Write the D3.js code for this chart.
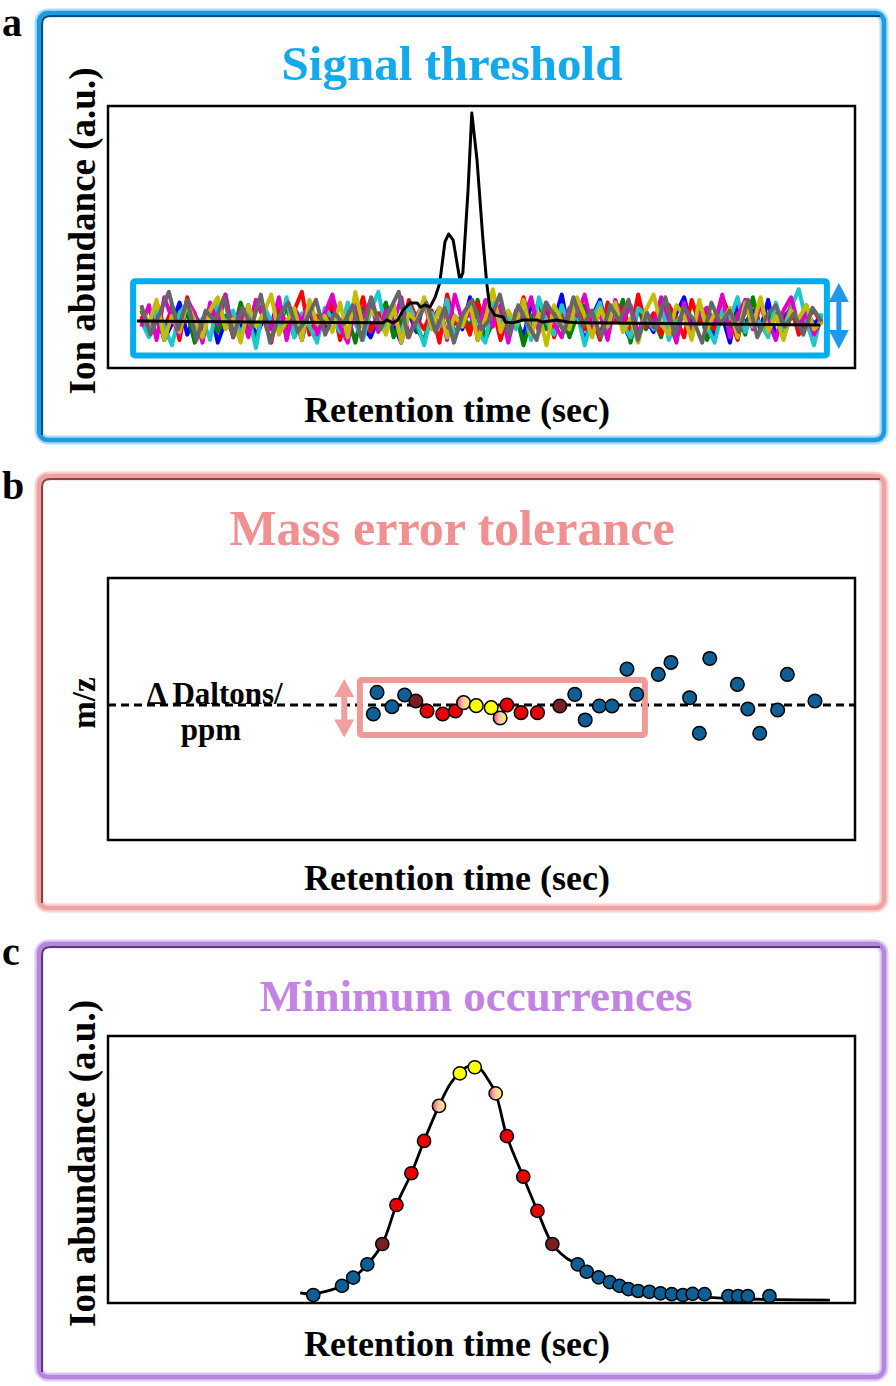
<!DOCTYPE html>
<html>
<head>
<meta charset="utf-8">
<script src="https://d3js.org/d3.v7.min.js"></script>
<style>
body { margin: 0; background: #fff; }
text { font-family: "Liberation Serif", "Times New Roman", serif; font-weight: bold; }
</style>
</head>
<body>
<svg id="chart" width="896" height="1386"></svg>
<script>
// ---- data ----
// panel a : noise traces (a.u.), evenly sampled along retention time
var noiseRed = [21,14,26,17,23,12,28,19,15,24,18,29,13,22,16,27,20,11,25,17,23,30,14,21,18,26,12,24,19,28,15,22,17,25,13,27,20,16,23,11,29,18,21,14,26,19,24,12,22,17,28,15,20,25,13,23,18,27,16,21,12,26,19,24,15,29,17,22,14,25,20,13,27,18,23,16,28,21,12,24,19,26,15,22,17,25,14,20,23,18];
var noiseMagenta = [17,25,12,28,20,14,27,22,11,26,18,29,15,23,13,27,21,16,28,12,24,19,26,14,22,29,17,11,25,20,27,15,23,18,28,13,21,26,16,24,12,29,19,22,14,27,17,25,11,23,20,28,15,26,18,13,24,21,29,16,22,12,27,19,25,14,23,17,28,20,11,26,15,22,24,18,29,13,21,27,16,25,19,12,23,28,17,22,14,20];
var noiseGreen = [23,16,20,13,25,18,22,11,19,24,15,21,14,26,17,12,23,19,16,25,13,20,22,15,18,27,14,21,11,24,17,20,26,13,19,23,16,12,22,18,25,14,21,17,27,12,19,24,15,22,10,20,26,16,18,23,13,21,25,17,14,22,19,27,11,24,16,20,13,25,18,21,15,26,12,19,23,17,22,14,28,16,20,24,13,21,18,25,15,19];
var noiseCyan = [19,13,24,17,10,22,26,15,20,12,27,18,23,14,21,9,25,19,16,28,13,22,17,11,24,20,15,26,18,12,23,30,16,21,14,25,19,10,22,17,27,13,20,24,15,11,26,18,21,16,23,12,28,19,14,25,17,22,10,20,26,15,23,18,13,24,21,16,27,12,19,22,14,25,17,11,23,20,28,15,21,18,13,26,16,24,31,19,10,22];
var noiseYellow = [24,18,27,12,21,15,26,19,13,23,28,16,20,11,25,17,22,29,14,19,24,12,27,18,21,15,26,13,30,17,23,20,14,25,11,22,19,28,16,24,13,21,17,26,12,20,31,15,23,18,27,14,22,10,25,19,16,28,21,13,24,17,26,15,20,11,23,29,18,14,25,21,12,27,16,22,19,24,13,26,17,28,15,21,12,23,20,25,16,19];
var noiseGray = [25,14,22,30,16,27,12,23,19,28,13,24,17,29,11,21,26,15,20,27,14,22,18,25,12,28,16,23,30,13,19,26,15,24,11,22,27,16,20,29,14,25,18,12,26,21,15,28,17,23,13,25,19,27,12,22,16,28,14,24,20,11,26,18,23,15,27,13,21,25,17,22,14,24,19];
var noiseBlue = [20,15,23,12,18,26,14,21,17,24,11,19,22,16,25,13,20,18,27,15,22,12,24,19,16,23,14,21,26,17,13,20,25,18,11,22,15,27,19,24,14,21,16,28,12,23,18,25,15,20,13,26,17,22,19,29,14,24,11,21,27,16,23,18,12,25,20,15,26,13,22,28,17,19,24,14,21,11,25,18,23,16,27,13,20,24,15,22,18,21];
var noiseStart = 4.6, noiseEnd = 95.8;

// panel a : the real signal (time, abundance)
var signalT = [4.0,37.0,37.5,38.3,39.0,39.7,40.6,41.6,42.0,42.6,43.3,44.0,44.6,45.3,45.8,46.4,47.3,47.7,48.4,48.9,49.6,50.4,50.9,51.3,52.0,53.1,53.4,54.4,55.8,57.6,58.4,60.3,61.7,63.4,95.6];
var signalV = [19.1,18.4,19.5,18.4,19.5,23.2,25.8,25.8,24.3,25.1,24.3,28.1,33.3,48.7,51.7,49.4,34.5,37.1,68.2,97.0,79.4,49.4,33.3,24.3,21.3,20.6,18.7,18.4,19.5,19.5,18.7,19.5,18.7,18.4,17.6];
var thresholdT = [3.5, 96.5], thresholdV = [6.2, 34];

// panel b : mass measurements (time, delta m/z)
var massT = [36.2,35.7,38.2,39.9,41.4,42.9,45.0,46.7,47.8,49.5,51.5,52.7,53.6,55.5,57.7,60.7,62.7,64.1,66.0,67.7,69.7,71.0,73.9,75.6,78.1,79.4,80.8,84.5,85.9,87.5,89.9,91.2,94.9];
var massV = [1.9,-1.35,-0.26,1.5,0.6,-0.9,-1.35,-0.9,0.35,-0.1,-0.4,-1.95,0,-1.15,-1.15,-0.15,1.6,-2.25,-0.15,-0.15,5.4,1.6,4.6,6.4,1.1,-4.25,7.0,3.1,-0.6,-4.25,-0.75,4.6,0.6];
var massCls = ["b","b","b","b","dr","r","r","r","g","y","y","g","r","r","r","dr","b","b","b","b","b","b","b","b","b","b","b","b","b","b","b","b","b"];
var toleranceT = [33.9, 72.1], toleranceV = [3.76, -4.5];

// panel c : chromatographic peak (time, abundance)
var peakT = [25.9,27.65,31.5,33.0,34.9,36.9,38.8,40.8,42.5,44.5,46.0,47.3,48.5,49.8,51.0,52.1,53.6,55.8,57.7,59.7,61.5,63.1,64.3,65.9,67.4,68.7,70.0,72.7,75.7,80.0,85.0,90.0,96.9];
var peakV = [3.8,3.4,6.4,9.4,14.4,22.1,36.7,48.6,60.7,73.8,82.0,86.4,88.7,88.3,84.0,78.5,62.5,47.3,34.5,22.1,17.0,14.4,11.7,9.6,7.8,6.4,5.2,4.0,3.0,2.2,1.6,1.3,1.1];
var scanT = [27.65,31.5,33.0,34.9,36.9,38.8,40.8,42.5,44.5,47.3,49.3,52.1,53.6,55.8,57.7,59.7,63.1,64.3,65.9,67.4,68.7,69.9,71.2,72.7,74.2,75.7,77.2,78.5,80.1,83.3,84.6,85.9,88.8];
var scanV = [3.0,6.4,9.5,14.5,22.1,36.7,48.6,60.7,73.8,86.0,88.3,78.5,62.5,47.3,34.5,22.1,14.5,11.7,9.6,7.8,6.4,5.2,4.5,4.2,3.6,3.3,3.0,3.4,3.3,2.6,2.6,2.6,2.6];
var scanCls = ["b","b","b","b","dr","r","r","r","g","y","y","g","r","r","r","dr","b","b","b","b","b","b","b","b","b","b","b","b","b","b","b","b","b"];

var titles = ["Signal threshold", "Mass error tolerance", "Minimum occurrences"];
var letters = ["a", "b", "c"];
var xLabel = "Retention time (sec)";
var yLabels = ["Ion abundance (a.u.)", "m/z", "Ion abundance (a.u.)"];

// ---- layout ----
var svg = d3.select("#chart");
var defs = svg.append("defs");
var grad = defs.append("linearGradient").attr("id", "mix");
grad.append("stop").attr("offset", "0%").attr("stop-color", "#f05050");
grad.append("stop").attr("offset", "45%").attr("stop-color", "#ffc0b8");
grad.append("stop").attr("offset", "100%").attr("stop-color", "#ffff40");

var dotFill = {b: "#0d5f96", dr: "#7a1f1f", r: "#e80000", y: "#ffff00", g: "url(#mix)"};

var panels = [
  {y0: 10, y1: 443, glow: "#a8def7", main: "#1f9ae0", dark: "#0b4a80", title: "#12aaec", titleY: 80,
   titleX: 452, titleSize: 49, box: [106, 368], xlabY: 422, letterY: 36},
  {y0: 473, y1: 911, glow: "#fad0d0", main: "#f0a2a2", dark: "#8a4444", title: "#f09090", titleY: 545,
   titleX: 452, titleSize: 50, box: [578, 840], xlabY: 890, letterY: 499},
  {y0: 941, y1: 1380, glow: "#e0c8f4", main: "#b685dd", dark: "#5d3a7e", title: "#c283e2", titleY: 1011,
   titleX: 476, titleSize: 45, box: [1036, 1303], xlabY: 1356, letterY: 965}
];

var left = 108, right = 855;
var x = d3.scaleLinear().domain([0, 100]).range([107, 853]);

panels.forEach(function(p, i) {
  var g = svg.append("g");
  g.append("rect").attr("x", 39).attr("y", p.y0 + 3).attr("width", 845).attr("height", p.y1 - p.y0 - 6)
    .attr("rx", 9).attr("fill", "none").attr("stroke", p.glow).attr("stroke-width", 9);
  g.append("rect").attr("x", 39).attr("y", p.y0 + 3).attr("width", 845).attr("height", p.y1 - p.y0 - 6)
    .attr("rx", 9).attr("fill", "none").attr("stroke", p.main).attr("stroke-width", 4.5);
  g.append("path")
    .attr("d", "M42," + (p.y1 - 8) + "V" + (p.y0 + 14) + "Q42," + (p.y0 + 6) + " 50," + (p.y0 + 6) + "H880")
    .attr("fill", "none").attr("stroke", p.dark).attr("stroke-width", 2);

  svg.append("text").attr("x", 2).attr("y", p.letterY).attr("font-size", 40).text(letters[i]);
  svg.append("text").attr("x", p.titleX).attr("y", p.titleY).attr("text-anchor", "middle")
    .attr("font-size", p.titleSize).attr("fill", p.title).text(titles[i]);
  svg.append("text").attr("x", 457).attr("y", p.xlabY).attr("text-anchor", "middle")
    .attr("font-size", 36).text(xLabel);
  var cy = (p.box[0] + p.box[1]) / 2;
  svg.append("text").attr("transform", "translate(95," + (cy - 6) + ") rotate(-90)")
    .attr("text-anchor", "middle").attr("font-size", i == 1 ? 33 : 37).text(yLabels[i]);
});

function frame(p) {
  svg.append("rect").attr("x", left).attr("y", p.box[0]).attr("width", right - left)
    .attr("height", p.box[1] - p.box[0]).attr("fill", "none").attr("stroke", "#000").attr("stroke-width", 2.5);
}

// ---- panel a ----
var yA = d3.scaleLinear().domain([0, 100]).range([372, 105]);
var noiseSeries = [
  {v: noiseBlue, c: "#0000ff"}, {v: noiseGreen, c: "#008000"}, {v: noiseRed, c: "#ff0000"},
  {v: noiseCyan, c: "#1cc8cc"}, {v: noiseMagenta, c: "#e000cc"}, {v: noiseYellow, c: "#c4bc00"},
  {v: noiseGray, c: "#666666"}
];
noiseSeries.forEach(function(s) {
  var idx = d3.scaleLinear().domain([0, s.v.length - 1]).range([noiseStart, noiseEnd]);
  var line = d3.line().x(function(d, i) { return x(idx(i)); }).y(function(d) { return yA(d); });
  svg.append("path").attr("d", line(s.v)).attr("fill", "none").attr("stroke", s.c)
    .attr("stroke-width", 4).attr("stroke-linejoin", "round");
});
var sigLine = d3.line().x(function(d) { return x(d); }).y(function(d, i) { return yA(signalV[i]); });
svg.append("path").attr("d", sigLine(signalT)).attr("fill", "none").attr("stroke", "#000")
  .attr("stroke-width", 3).attr("stroke-linejoin", "round");
svg.append("rect").attr("x", x(thresholdT[0])).attr("y", yA(thresholdV[1]))
  .attr("width", x(thresholdT[1]) - x(thresholdT[0])).attr("height", yA(thresholdV[0]) - yA(thresholdV[1]))
  .attr("rx", 2).attr("fill", "none").attr("stroke", "#00aeef").attr("stroke-width", 6);
frame(panels[0]);

function dblArrow(cx, ya, yb, col, hw, hl, sw) {
  svg.append("path")
    .attr("d", "M" + cx + "," + ya + "L" + (cx + hw / 2) + "," + (ya + hl) + "H" + (cx + sw / 2) +
      "V" + (yb - hl) + "H" + (cx + hw / 2) + "L" + cx + "," + yb + "L" + (cx - hw / 2) + "," + (yb - hl) +
      "H" + (cx - sw / 2) + "V" + (ya + hl) + "H" + (cx - hw / 2) + "Z")
    .attr("fill", col);
}
dblArrow(x(98.1), yA(33.3), yA(8.6), "#1e98ee", 20, 19, 5);

// ---- panel b ----
var yB = d3.scaleLinear().domain([-20, 20]).range([838, 572]);
svg.append("line").attr("x1", left).attr("x2", right).attr("y1", yB(0)).attr("y2", yB(0))
  .attr("stroke", "#000").attr("stroke-width", 2.8).attr("stroke-dasharray", "8,5");
svg.append("text").attr("x", 147).attr("y", yB(0) - 1).attr("font-size", 31).text("\u0394 Daltons/");
svg.append("text").attr("x", 211).attr("y", yB(0) + 35).attr("text-anchor", "middle").attr("font-size", 31).text("ppm");
svg.append("rect").attr("x", x(toleranceT[0])).attr("y", yB(toleranceV[0]))
  .attr("width", x(toleranceT[1]) - x(toleranceT[0])).attr("height", yB(toleranceV[1]) - yB(toleranceV[0]))
  .attr("rx", 2).attr("fill", "none").attr("stroke", "#ef9a98").attr("stroke-width", 6);
dblArrow(x(31.8), yB(3.9), yB(-4.9), "#f0a0a0", 20, 18, 6);
svg.append("g").selectAll("circle").data(massT).enter().append("circle")
  .attr("cx", function(d) { return x(d); })
  .attr("cy", function(d, i) { return yB(massV[i]); })
  .attr("r", 6.8)
  .attr("fill", function(d, i) { return dotFill[massCls[i]]; })
  .attr("stroke", "#000").attr("stroke-width", 1.5);
frame(panels[1]);

// ---- panel c ----
var yC = d3.scaleLinear().domain([0, 100]).range([1303, 1036]);
var peakLine = d3.line().curve(d3.curveCatmullRom.alpha(0.5))
  .x(function(d) { return x(d); }).y(function(d, i) { return yC(peakV[i]); });
svg.append("path").attr("d", peakLine(peakT)).attr("fill", "none").attr("stroke", "#000").attr("stroke-width", 2.8);
svg.append("g").selectAll("circle").data(scanT).enter().append("circle")
  .attr("cx", function(d) { return x(d); })
  .attr("cy", function(d, i) { return yC(scanV[i]); })
  .attr("r", 6.6)
  .attr("fill", function(d, i) { return dotFill[scanCls[i]]; })
  .attr("stroke", "#000").attr("stroke-width", 1.5);
frame(panels[2]);
</script>
</body>
</html>
